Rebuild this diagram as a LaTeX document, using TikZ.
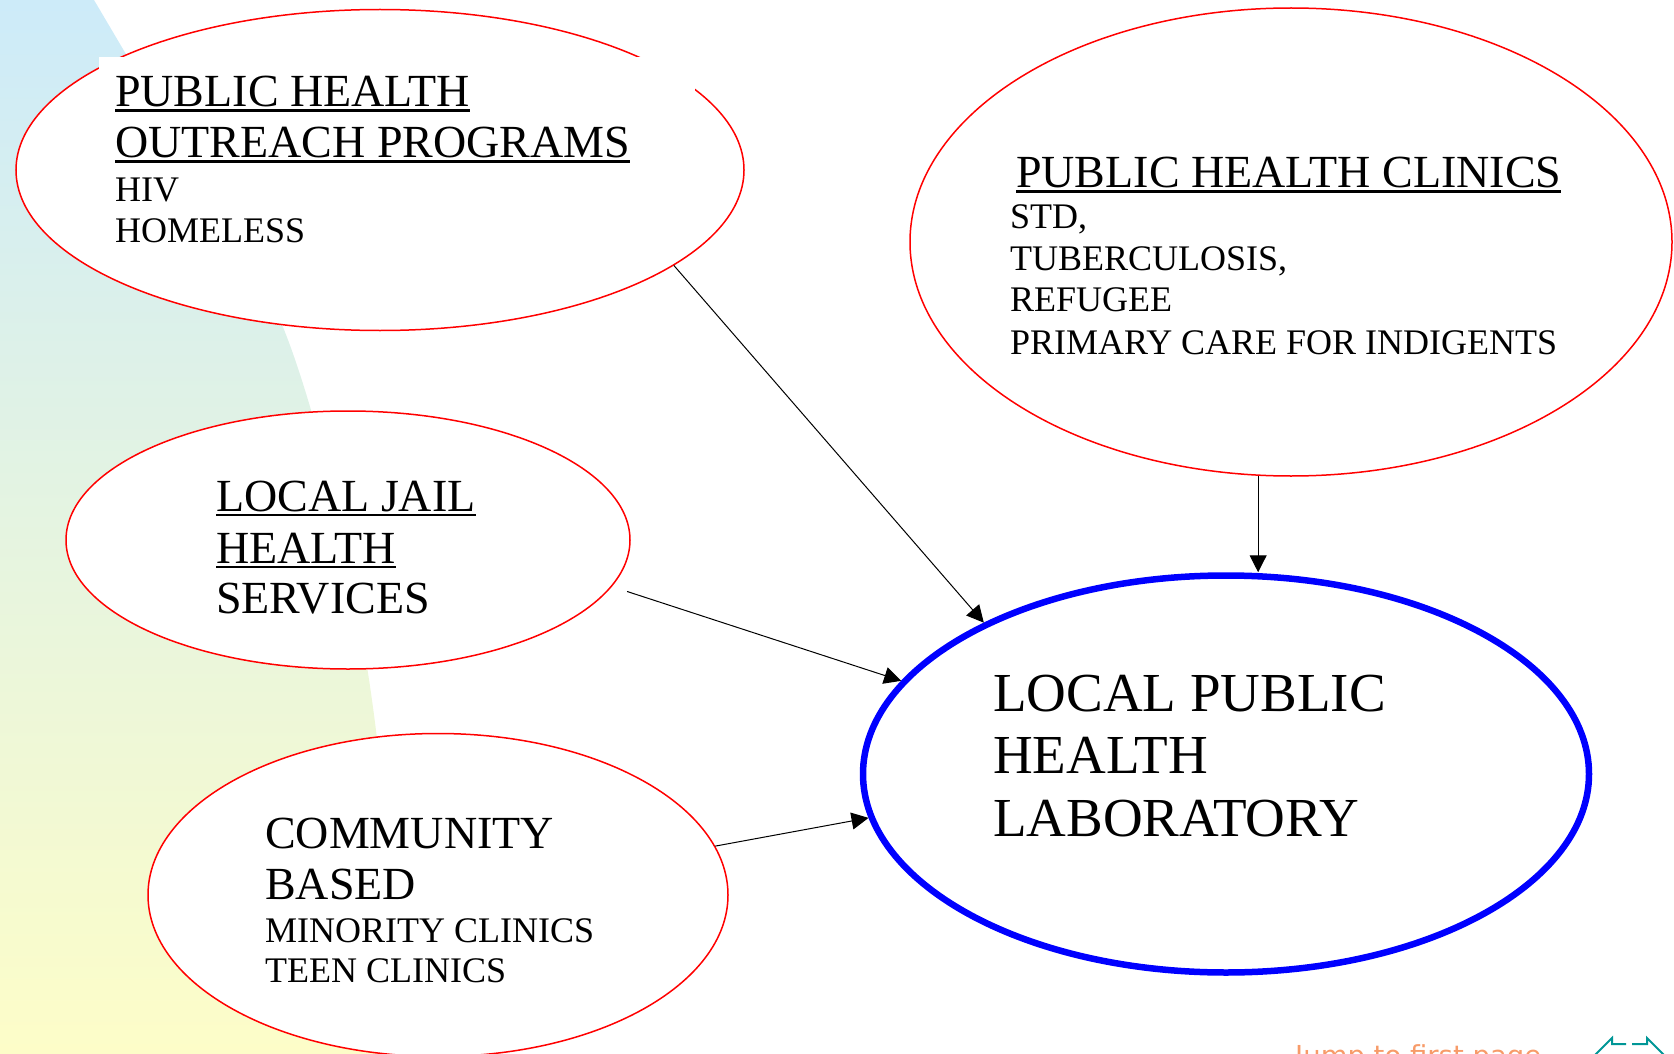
\documentclass[tikz,border=0pt]{standalone}
\usepackage{fontspec}
\setmainfont{Liberation Serif}
\newfontfamily\footfont{DejaVu Sans}
\usetikzlibrary{shapes.geometric}
\usetikzlibrary{arrows.meta}
\definecolor{bgblue}{RGB}{205,235,249}
\definecolor{bgmid}{RGB}{229,244,226}
\definecolor{bgyellow}{RGB}{253,253,200}
\definecolor{jumporange}{RGB}{247,155,105}
\definecolor{navteal}{RGB}{0,150,150}
\newcommand{\ulined}[1]{\setbox0\hbox{#1}\rlap{\rule[-5pt]{\wd0}{2.5pt}}\box0}

\begin{document}
\begin{tikzpicture}[x=1pt, y=-1pt,
		ring/.style={ellipse, draw=red, line width=1.5pt, fill=white, inner sep=0pt},
		hub/.style={ellipse, draw=blue, line width=6.5pt, fill=white, inner sep=0pt},
		titletext/.style={anchor=base west, inner sep=0pt, font=\fontsize{46}{50}\selectfont},
		itemtext/.style={anchor=base west, inner sep=0pt, font=\fontsize{36}{40}\selectfont},
		labtext/.style={anchor=base west, inner sep=0pt, font=\fontsize{55}{60}\selectfont},
		feed/.style={-{Triangle[length=17pt,width=17pt]}, line width=1pt}]
		\useasboundingbox (0,0) rectangle (1674,1054);
		\clip (0,0) rectangle (1674,1054);

		% Slide background band
		\shade[top color=bgblue, middle color=bgmid, bottom color=bgyellow]
			(0,0) -- plot[smooth] coordinates {(94,0) (200,180) (280,320) (330,480) (368,673) (390,860) (402,1054)} -- (0,1054) -- cycle;

		% Programs
		\node[ring, minimum width=728, minimum height=321] (outreach) at (380,170) {};
		\node[ring, minimum width=762, minimum height=468] (clinics) at (1291,242) {};
		\node[ring, minimum width=564, minimum height=258] (jail) at (348,540) {};
		\node[ring, minimum width=580, minimum height=323] (community) at (438,895) {};
		\fill[white] (99,57) rectangle (695,245);

		% Laboratory
		\node[hub, minimum width=726, minimum height=397] (lab) at (1226,774) {};

		\node[titletext] (outreachA) at (115,107) {\ulined{PUBLIC HEALTH}};
		\node[titletext] (outreachB) at (115,158) {\ulined{OUTREACH PROGRAMS}};
		\node[itemtext] (outreachC) at (115,201) {HIV};
		\node[itemtext] (outreachD) at (115,242) {HOMELESS};

		\node[titletext] (clinicsA) at (1016,188) {\ulined{PUBLIC HEALTH CLINICS}};
		\node[itemtext] (clinicsB) at (1010,228) {STD,};
		\node[itemtext] (clinicsC) at (1010,270) {TUBERCULOSIS,};
		\node[itemtext] (clinicsD) at (1010,311) {REFUGEE};
		\node[itemtext] (clinicsE) at (1010,354) {PRIMARY CARE FOR INDIGENTS};

		\node[titletext] (jailA) at (216,511) {\ulined{LOCAL JAIL}};
		\node[titletext] (jailB) at (216,563) {\ulined{HEALTH}};
		\node[titletext] (jailC) at (216,613) {SERVICES};

		\node[titletext] (communityA) at (265,848) {COMMUNITY};
		\node[titletext] (communityB) at (265,899) {BASED};
		\node[itemtext] (communityC) at (265,942) {MINORITY CLINICS};
		\node[itemtext] (communityD) at (265,982) {TEEN CLINICS};

		\node[labtext] (labA) at (993,711) {LOCAL PUBLIC};
		\node[labtext] (labB) at (993,773) {HEALTH};
		\node[labtext] (labC) at (993,836) {LABORATORY};

		% Arrows
		\draw[feed] (outreach.-18) -- (lab.148);
		\draw[feed, shorten <=16pt] (jail.-10) -- (lab.164);
		\draw[feed] (community.10) -- (lab.-173);
		\draw[feed] (clinics.-98) -- (clinics.-98 |- lab.north);

		% Footer
		\node[anchor=base west, inner sep=0pt, text=jumporange, font=\footfont\fontsize{27.5}{30}\selectfont] (jumplink) at (1295,1065) {Jump to first page};
		\draw[navteal, line width=2pt] (1626,1044) -- (1612,1044) -- (1612,1038) -- (1590,1060);
		\draw[navteal, line width=2pt] (1632,1044) -- (1647,1044) -- (1647,1038) -- (1669,1060);
	\end{tikzpicture}
\end{document}
